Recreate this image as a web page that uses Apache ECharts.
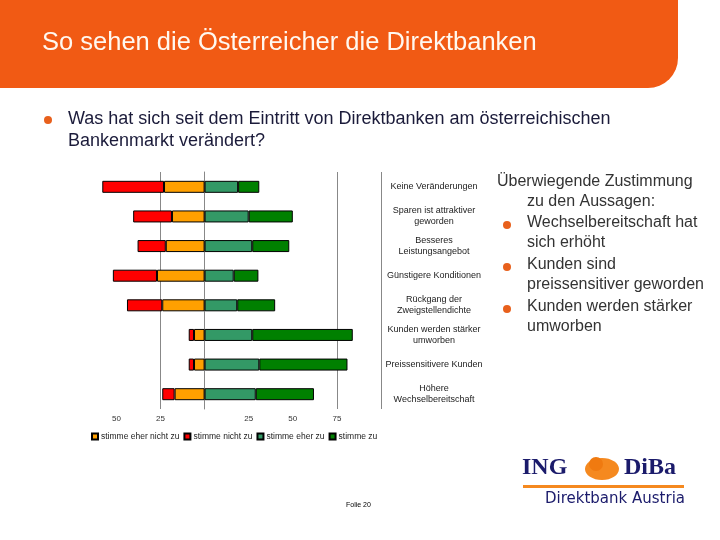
<!DOCTYPE html>
<html><head><meta charset="utf-8">
<script src="https://cdn.jsdelivr.net/npm/echarts@6/dist/echarts.min.js"></script>
<style>html,body{margin:0;padding:0;background:#fff}#c{width:720px;height:540px}</style>
</head><body><div id="c"></div>
<script>
const categories = ['Keine Veränderungen','Sparen ist attraktiver\ngeworden','Besseres\nLeistungsangebot','Günstigere Konditionen','Rückgang der\nZweigstellendichte','Kunden werden stärker\numworben','Preissensitivere Kunden','Höhere\nWechselbereitschaft'];
const seriesNames = ['stimme eher nicht zu','stimme nicht zu','stimme eher zu','stimme zu'];
const eherNicht = [23, 18.5, 22, 27, 24, 6, 6, 17];
const nicht = [35, 22, 16, 25, 20, 3, 3, 7];
const eherZu = [19, 25, 27, 16.5, 18.5, 27, 31, 29];
const zu = [12, 25, 21, 14, 21.5, 57, 50, 33];
const titleText = 'So sehen die Österreicher die Direktbanken';
const questionLines = ['Was hat sich seit dem Eintritt von Direktbanken am österreichischen','Bankenmarkt verändert?'];
const sideLines = ['Überwiegende Zustimmung','zu den Aussagen:','Wechselbereitschaft hat','sich erhöht','Kunden sind','preissensitiver geworden','Kunden werden stärker','umworben'];
const footer = 'Folie 20';

const colors = ['#FFA000','#FF0000','#339966','#008000'];
const F = 'Liberation Sans, Arial, sans-serif';
const chart = echarts.init(document.getElementById('c'));

const neg = a => a.map(v => -v);
const mk = (name, data, i) => ({
  name, type:'bar', stack:'total', data, barWidth:12,
  itemStyle:{color:colors[i], borderColor:'#000', borderWidth:1},
  emphasis:{disabled:true}
});

const sideX = [497,527,527,527,527,527,527,527];
const sideY = [184,204,225,245,267,287,309,329];
const sideGraphics = sideLines.map((t,i)=>({type:'text', left:sideX[i], top:sideY[i]-10, style:{text:t, font:'16px '+F, fill:'#333'}}));
[225,267,309].forEach(y=>sideGraphics.push({type:'circle', shape:{cx:507, cy:y, r:4}, style:{fill:'#E8601C'}}));

chart.setOption({
  animation:false,
  grid:{left:72.3, right:339, top:172, bottom:131},
  legend:{left:86, top:427, itemWidth:6, itemHeight:6, itemGap:4, icon:'rect',
    textStyle:{fontSize:8.5, fontFamily:F, color:'#222', padding:[0,0,0,-2]}, data:seriesNames},
  xAxis:{type:'value', min:-75, max:100, interval:25,
    axisLine:{show:false}, axisTick:{show:false},
    axisLabel:{fontSize:8, fontFamily:F, color:'#333', margin:6,
      formatter:v => (v===0||v===-75||v===100) ? '' : String(Math.abs(v))},
    splitLine:{show:true, lineStyle:{width:1, color:['rgba(0,0,0,0)','rgba(0,0,0,0)','#888','#888','rgba(0,0,0,0)','rgba(0,0,0,0)','#888','#888']}}},
  yAxis:{type:'category', data:categories, inverse:true, position:'right',
    axisLine:{show:true, lineStyle:{color:'#888'}}, axisTick:{show:false},
    axisLabel:{fontSize:9, fontFamily:F, color:'#222', align:'center', margin:53, lineHeight:11}},
  series:[mk(seriesNames[0], neg(eherNicht),0), mk(seriesNames[1], neg(nicht),1), mk(seriesNames[2], eherZu,2), mk(seriesNames[3], zu,3)],
  graphic:[
    {type:'rect', shape:{x:0,y:0,width:678,height:88,r:[0,0,30,0]}, style:{fill:'#F15A14'}, z:0},
    {type:'text', left:42, top:30, style:{text:titleText, font:'25.5px '+F, fill:'#FFF8F0'}},
    {type:'circle', shape:{cx:48, cy:120, r:4}, style:{fill:'#E8601C'}},
    {type:'text', left:68, top:110, style:{text:questionLines[0], font:'18px '+F, fill:'#1b1b3a'}},
    {type:'text', left:68, top:132, style:{text:questionLines[1], font:'18px '+F, fill:'#1b1b3a'}},
    ...sideGraphics,
    {type:'text', left:346, top:502, style:{text:footer, font:'7px '+F, fill:'#000'}},
    {type:'text', left:522, top:456, style:{text:'ING', font:'bold 24px Liberation Serif, serif', fill:'#1b1b6b'}},
    {type:'ellipse', shape:{cx:602, cy:469, rx:17, ry:11}, style:{fill:'#F5891F'}},
    {type:'circle', shape:{cx:596, cy:464, r:7}, style:{fill:'#F07A10'}},
    {type:'text', left:624, top:456, style:{text:'DiBa', font:'bold 24px Liberation Serif, serif', fill:'#1b1b6b'}},
    {type:'rect', shape:{x:523,y:485,width:161,height:3}, style:{fill:'#F5891F'}},
    {type:'text', left:545, top:492, style:{text:'Direktbank Austria', font:'15px DejaVu Sans, sans-serif', fill:'#1b1b6b'}}
  ]
});
</script></body></html>
